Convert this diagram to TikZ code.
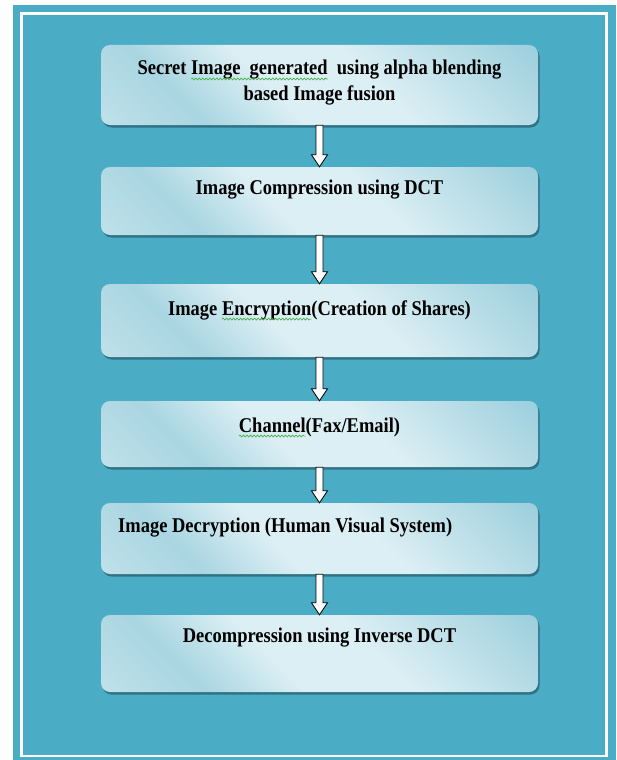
\documentclass[tikz,border=0pt]{standalone}
\usepackage{fontspec}
\setmainfont{Liberation Serif}
\newfontfamily\stagefont[FakeStretch=0.88]{Liberation Serif}
\usetikzlibrary{calc,shadows,decorations.pathmorphing}

\definecolor{bgblue}{HTML}{4BACC6}
\definecolor{boxlight}{HTML}{DCEFF4}
\definecolor{boxdark}{HTML}{9CCFDD}
\definecolor{boxshadow}{HTML}{2F7384}
\definecolor{spellgreen}{HTML}{3DAA3D}

% glossy fill of the stage boxes (diagonal, lower left to upper right)
\pgfdeclarehorizontalshading{boxglow}{100bp}{%
  color(0bp)=(boxlight!55!boxdark);
  color(15bp)=(boxlight!55!boxdark);
  color(29bp)=(boxdark!80!boxlight);
  color(43bp)=(boxlight);
  color(58bp)=(boxlight);
  color(85bp)=(boxdark);
  color(100bp)=(boxdark)}

% green wavy underline under a word
\newsavebox\wavebox
\newcommand\spellwave[1]{%
  \sbox\wavebox{#1}\rlap{\usebox\wavebox}%
  \tikz[baseline=0pt]{\useasboundingbox (0pt,0pt) rectangle (\wd\wavebox,0pt);
    \draw[spellgreen, line width=0.6pt, decorate,
      decoration={snake, amplitude=1pt, segment length=3.5pt}]
      (0pt,-4pt) -- (\wd\wavebox,-4pt);}}

% hollow block arrow between two stages
\newcommand\flowarrow[2]{%
  \draw[flowarr] let \p1=(#1.south), \p2=(#2.north) in
    (\x1-3.5pt,\y1) -- (\x1-3.5pt,\y2+12pt) -- (\x1-8pt,\y2+12pt) -- (\x1,\y2)
    -- (\x1+8pt,\y2+12pt) -- (\x1+3.5pt,\y2+12pt) -- (\x1+3.5pt,\y1) -- cycle;}

\begin{document}
\begin{tikzpicture}[x=1pt,y=-1pt,
  stage/.style={rounded corners=9pt, minimum width=437pt, inner sep=0pt,
    shading=boxglow, shading angle=45,
    general shadow={fill=boxshadow, shadow xshift=1.5pt, shadow yshift=-2.5pt}},
  lbl/.style={font=\stagefont\fontsize{21}{26}\selectfont\bfseries, align=center, inner sep=0pt},
  flowarr/.style={fill=white, draw=black, line width=0.8pt, line join=miter}]

\useasboundingbox (0,0) rectangle (616,760);

% panel and its white frame
\fill[bgblue] (13,5) rectangle (616,760);
\draw[white, line width=2.5pt] (21.5,13.5) rectangle (606.5,756);

% stages
\node[stage, minimum height=80pt] (b1) at (319.5,85) {};
\node[stage, minimum height=68pt] (b2) at (319.5,201) {};
\node[stage, minimum height=73pt] (b3) at (319.5,320.5) {};
\node[stage, minimum height=66pt] (b4) at (319.5,434) {};
\node[stage, minimum height=71pt] (b5) at (319.5,538.5) {};
\node[stage, minimum height=77pt] (b6) at (319.5,653.5) {};

% stage texts
\node[lbl] (t1) at (319.5,83) {Secret \spellwave{Image\ \ generated}\ \ using alpha blending\\based Image fusion};
\node[lbl] (t2) at (319.5,190) {Image Compression using DCT};
\node[lbl] (t3) at (319.5,310) {Image \spellwave{Encryption}(Creation of Shares)};
\node[lbl] (t4) at (319.5,427) {\spellwave{Channel}(Fax/Email)};
\node[lbl, anchor=west] (t5) at (118,528) {Image Decryption (Human Visual System)};
\node[lbl] (t6) at (319.5,638) {Decompression using Inverse DCT};

% flow
\flowarrow{b1}{b2}
\flowarrow{b2}{b3}
\flowarrow{b3}{b4}
\flowarrow{b4}{b5}
\flowarrow{b5}{b6}
\end{tikzpicture}
\end{document}
